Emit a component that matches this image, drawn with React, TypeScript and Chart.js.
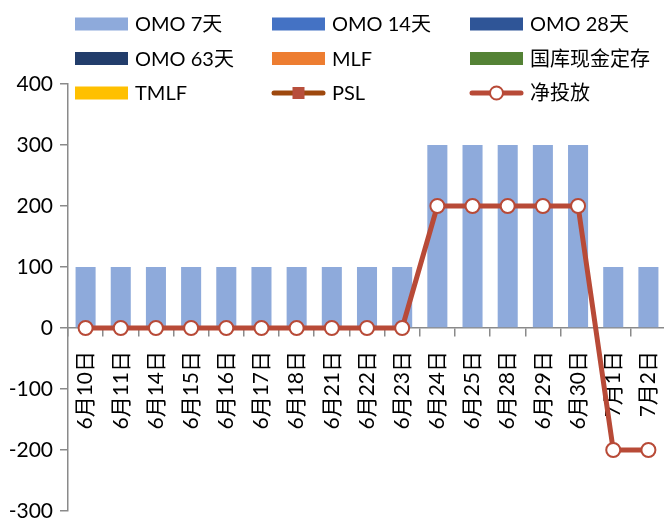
import React, { useEffect, useRef } from "react";
import { Chart, registerables } from "chart.js";

Chart.register(...registerables);

// 日期（交易日）
const categories = [
  "6月10日", "6月11日", "6月14日", "6月15日", "6月16日", "6月17日",
  "6月18日", "6月21日", "6月22日", "6月23日", "6月24日", "6月25日",
  "6月28日", "6月29日", "6月30日", "7月1日", "7月2日",
];

// 各工具投放量（亿元）
const omo7 = [100, 100, 100, 100, 100, 100, 100, 100, 100, 100, 300, 300, 300, 300, 300, 100, 100];
const omo14: number[] = [];
const omo28: number[] = [];
const omo63: number[] = [];
const mlf: number[] = [];
const treasuryDeposit: number[] = [];
const tmlf: number[] = [];
const psl: number[] = [];
// 净投放
const netInjection = [0, 0, 0, 0, 0, 0, 0, 0, 0, 0, 200, 200, 200, 200, 200, -200, -200];

// 纵轴刻度范围
const yMin = -300;
const yMax = 400;
const yStep = 100;

const FONT = 'Lato, "Noto Sans CJK SC", sans-serif';
const AXIS_GRAY = "#8a8a8a";

// 三列网格图例，画在绘图区上方
const gridLegend = {
  id: "gridLegend",
  afterDraw(chart: any) {
    const ctx = chart.ctx as CanvasRenderingContext2D;
    const colX = [75, 272, 470];
    const rowY = [24, 58.5, 93];
    const boxW = 53;
    const boxH = 13;
    ctx.save();
    ctx.font = `20px ${FONT}`;
    ctx.textBaseline = "middle";
    ctx.textAlign = "left";
    chart.data.datasets.forEach((ds: any, i: number) => {
      const x = colX[i % 3];
      const y = rowY[Math.floor(i / 3)];
      if (ds.type === "line") {
        ctx.strokeStyle = ds.borderColor;
        ctx.lineWidth = 5;
        ctx.lineCap = "round";
        ctx.beginPath();
        ctx.moveTo(x + 2, y);
        ctx.lineTo(x + boxW - 2, y);
        ctx.stroke();
        const cx = x + boxW / 2;
        if (ds.pointStyle === "rect") {
          ctx.fillStyle = ds.pointBackgroundColor;
          ctx.fillRect(cx - 6, y - 6, 12, 12);
        } else {
          ctx.beginPath();
          ctx.arc(cx, y, 6.5, 0, Math.PI * 2);
          ctx.fillStyle = ds.pointBackgroundColor;
          ctx.fill();
          ctx.lineWidth = 2;
          ctx.strokeStyle = ds.pointBorderColor;
          ctx.stroke();
        }
      } else {
        ctx.fillStyle = ds.backgroundColor;
        ctx.fillRect(x, y - boxH / 2, boxW, boxH);
      }
      ctx.fillStyle = "#000";
      ctx.fillText(ds.label, x + boxW + 7, y + 1);
    });
    ctx.restore();
  },
};

function barSet(label: string, data: number[], color: string) {
  return {
    type: "bar" as const,
    label,
    data,
    backgroundColor: color,
    grouped: false,
    barPercentage: 0.57,
    categoryPercentage: 1,
    order: 2,
  };
}

// 坐标轴不额外预留边距，绘图区位置完全由 layout.padding 决定
function zeroPadding(scale: any) {
  scale.paddingTop = 0;
  scale.paddingBottom = 0;
  scale.paddingLeft = 0;
  scale.paddingRight = 0;
}

export default function App() {
  const canvasRef = useRef<HTMLCanvasElement | null>(null);

  useEffect(() => {
    if (!canvasRef.current) return;
    const chart = new Chart(canvasRef.current, {
      type: "bar",
      data: {
        labels: categories,
        datasets: [
          barSet("OMO 7天", omo7, "#8eaadb"),
          barSet("OMO 14天", omo14, "#4472c4"),
          barSet("OMO 28天", omo28, "#2f5597"),
          barSet("OMO 63天", omo63, "#223d6b"),
          barSet("MLF", mlf, "#ed7d31"),
          barSet("国库现金定存", treasuryDeposit, "#548235"),
          barSet("TMLF", tmlf, "#ffc000"),
          {
            type: "line" as const,
            label: "PSL",
            data: psl,
            borderColor: "#9e480e",
            borderWidth: 5,
            pointStyle: "rect",
            pointRadius: 6,
            pointBackgroundColor: "#b84f3c",
            pointBorderColor: "#b84f3c",
            order: 1,
          },
          {
            type: "line" as const,
            label: "净投放",
            data: netInjection,
            borderColor: "#b84a37",
            borderWidth: 5,
            tension: 0,
            pointStyle: "circle",
            pointRadius: 7,
            pointBorderWidth: 2,
            pointBackgroundColor: "#ffffff",
            pointBorderColor: "#b84a37",
            clip: false,
            order: 1,
          },
        ] as any,
      },
      options: {
        animation: false,
        responsive: true,
        maintainAspectRatio: false,
        layout: { autoPadding: false, padding: { top: 84, left: 0, right: 0, bottom: 12 } },
        plugins: {
          legend: { display: false },
          tooltip: { enabled: false },
        },
        scales: {
          x: {
            position: { y: 0 } as any,
            offset: true,
            afterFit: zeroPadding,
            grid: {
              offset: true,
              drawOnChartArea: false,
              drawTicks: true,
              tickLength: 8,
              color: AXIS_GRAY,
              lineWidth: 1.5,
            },
            border: { display: true, color: AXIS_GRAY, width: 1.5 },
            ticks: {
              autoSkip: false,
              minRotation: 90,
              maxRotation: 90,
              padding: 15,
              color: "#000",
              font: { family: FONT, size: 21 },
            },
          },
          y: {
            min: yMin,
            max: yMax,
            afterFit: (scale: any) => {
              zeroPadding(scale);
              scale.width = 68;
            },
            grid: {
              drawOnChartArea: false,
              drawTicks: true,
              tickLength: 8,
              color: AXIS_GRAY,
              lineWidth: 1.5,
            },
            border: { display: true, color: AXIS_GRAY, width: 1.5 },
            ticks: {
              stepSize: yStep,
              padding: 7,
              color: "#000",
              font: { family: FONT, size: 21 },
            },
          },
        },
      },
      plugins: [gridLegend],
    });
    return () => chart.destroy();
  }, []);

  return (
    <div style={{ position: "fixed", left: 0, top: 0, width: 664, height: 523, overflow: "hidden", background: "#fff" }}>
      <div style={{ position: "relative", width: 666, height: 523 }}>
        <canvas ref={canvasRef} />
      </div>
    </div>
  );
}
